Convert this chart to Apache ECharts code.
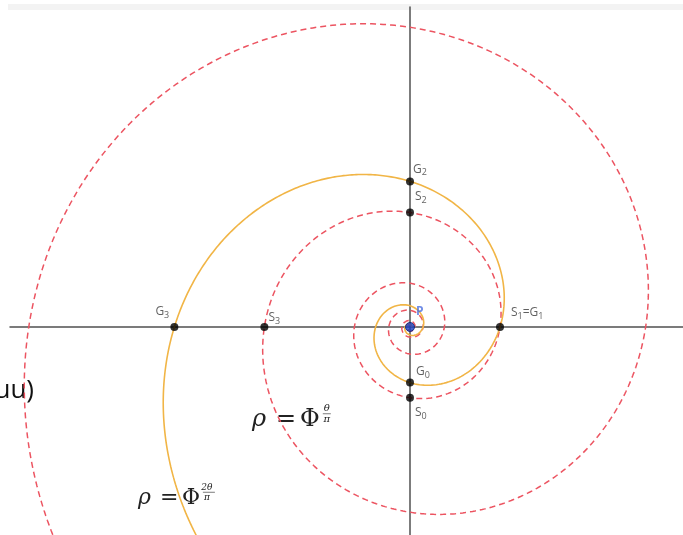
<!DOCTYPE html>
<html>
<head>
<meta charset="utf-8">
<script src="https://cdn.jsdelivr.net/npm/echarts@6/dist/echarts.min.js"></script>
<style>
  html, body { margin: 0; padding: 0; background: #ffffff; }
  #chart { width: 683px; height: 535px; }
</style>
</head>
<body>
<div id="chart"></div>
<script>
// Golden ratio: both spirals grow by powers of it.
const PHI = (1 + Math.sqrt(5)) / 2;

// Spirals rho = PHI^(k * theta / pi); k and the drawn theta span (in multiples of pi).
const spiralNames = ['S', 'G'];
const spiralExponent = [1, 2];
const spiralFromTurns = [-8, -4];
const spiralToTurns = [3.4, 1.45];

// Marked points: curve they sit on and their angle (in multiples of pi).
const pointCurve = ['S', 'S', 'S', 'S', 'G', 'G', 'G'];
const pointAngle = [-0.5, 0, 0.5, 1, -0.5, 0.5, 1];
const pointLabels = ['S0', 'S1=G1', 'S2', 'S3', 'G0', 'G2', 'G3'];

// Pole of the spirals.
const poleLabel = 'P';

// Layout: pixels per unit radius and where the pole sits on the page.
const W = 683, H = 535, UNIT = 90, CX = 410, CY = 327;
const GRID_LEFT = 10, GRID_TOP = 7;

function spiralData(k, fromT, toT) {
  const pts = [];
  const step = 0.004;
  for (let t = fromT; t <= toT + 1e-9; t += step) {
    const th = t * Math.PI;
    const r = Math.pow(PHI, k * t);
    pts.push([r * Math.cos(th), r * Math.sin(th)]);
  }
  return pts;
}

function pointOn(curve, t) {
  const k = spiralExponent[spiralNames.indexOf(curve)];
  const r = Math.pow(PHI, k * t);
  const th = t * Math.PI;
  return [r * Math.cos(th), r * Math.sin(th)];
}

function richLabel(s) {
  // "S1=G1" -> letters normal, digits as subscripts
  return s.replace(/([A-Z=]+)|(\d+)/g, (m, a, d) => a ? '{b|' + a + '}' : '{s|' + d + '}');
}

// Label offsets (from dot centre to the label's left-middle).
const labelOffset = {
  'S0': [5, 15], 'S1=G1': [11, -14], 'S2': [5, -16], 'S3': [4, -9],
  'G0': [6, -11], 'G2': [3, -12], 'G3': [-19, -15]
};

const chart = echarts.init(document.getElementById('chart'), null, { renderer: 'canvas' });

const xMin = -(CX - GRID_LEFT) / UNIT, xMax = (W - CX) / UNIT;
const yMax = (CY - GRID_TOP) / UNIT, yMin = -(H - CY) / UNIT;

const axisStyle = { color: '#505050', width: 1.5 };

const curveStyles = {
  S: { color: '#ec5461', width: 1.5, type: [6, 4] },
  G: { color: '#f1b546', width: 1.6, type: 'solid' }
};

const series = [];
spiralNames.forEach((name, i) => {
  series.push({
    type: 'line',
    name: name,
    data: spiralData(spiralExponent[i], spiralFromTurns[i], spiralToTurns[i]),
    showSymbol: false,
    symbol: 'none',
    smooth: false,
    clip: true,
    lineStyle: curveStyles[name],
    z: name === 'G' ? 3 : 2,
    animation: false
  });
});

series.push({
  type: 'scatter',
  data: pointLabels.map((lab, i) => ({
    value: pointOn(pointCurve[i], pointAngle[i]),
    name: lab,
    label: {
      show: true,
      position: 'inside',
      align: 'left',
      verticalAlign: 'middle',
      offset: labelOffset[lab],
      formatter: richLabel(lab),
      rich: {
        b: { fontSize: 12, fontFamily: '"Open Sans", sans-serif', color: '#383838', lineHeight: 16, verticalAlign: 'middle' },
        s: { fontSize: 9, fontFamily: '"Open Sans", sans-serif', color: '#383838', lineHeight: 16, verticalAlign: 'bottom', padding: [5, 0, 0, 0] }
      }
    }
  })),
  symbol: 'circle',
  symbolSize: 8,
  itemStyle: { color: '#000000' },
  z: 5,
  animation: false
});

series.push({
  type: 'scatter',
  data: [{ value: [0, 0], name: poleLabel }],
  symbol: 'circle',
  symbolSize: 9,
  itemStyle: { color: '#1a3fc4', borderColor: '#0c1f6e', borderWidth: 1 },
  label: {
    show: true,
    position: 'inside',
    align: 'left',
    verticalAlign: 'middle',
    offset: [6, -15],
    formatter: '{b}',
    fontSize: 12,
    fontWeight: 'bold',
    fontFamily: '"Open Sans", sans-serif',
    color: '#4a6ee0'
  },
  z: 6,
  animation: false
});

// Equation annotations drawn as text: rho = Phi^(numer/pi)
function equation(x, base, numer, size) {
  const serif = '"DejaVu Serif", "Liberation Serif", serif';
  const small = Math.round(size * 0.4);
  const fracX = x + size * 2.95;
  return {
    type: 'group',
    children: [
      { type: 'text', x: x, y: base, style: { text: 'ρ', font: 'italic ' + size + 'px ' + serif, fill: '#222', verticalAlign: 'bottom' } },
      { type: 'text', x: x + size * 1.0, y: base, style: { text: '=', font: size + 'px ' + serif, fill: '#222', verticalAlign: 'bottom' } },
      { type: 'text', x: x + size * 2.0, y: base, style: { text: 'Φ', font: size + 'px ' + serif, fill: '#222', verticalAlign: 'bottom' } },
      { type: 'text', x: fracX + 4, y: base - size * 0.78, style: { text: numer, font: 'italic ' + small + 'px ' + serif, fill: '#222', align: 'center', verticalAlign: 'bottom' } },
      { type: 'line', shape: { x1: fracX, y1: base - size * 0.76, x2: fracX + 8 + (numer.length - 1) * 4, y2: base - size * 0.76 }, style: { stroke: '#222', lineWidth: 0.6 } },
      { type: 'text', x: fracX + 4, y: base - size * 0.72, style: { text: 'π', font: 'italic ' + small + 'px ' + serif, fill: '#222', align: 'center', verticalAlign: 'top' } }
    ]
  };
}

chart.setOption({
  backgroundColor: '#ffffff',
  animation: false,
  grid: { left: GRID_LEFT, right: 0, top: GRID_TOP, bottom: 0, containLabel: false },
  xAxis: {
    type: 'value', min: xMin, max: xMax,
    axisLine: { show: true, onZero: true, lineStyle: axisStyle },
    axisTick: { show: false }, axisLabel: { show: false }, splitLine: { show: false }
  },
  yAxis: {
    type: 'value', min: yMin, max: yMax,
    axisLine: { show: true, onZero: true, lineStyle: axisStyle },
    axisTick: { show: false }, axisLabel: { show: false }, splitLine: { show: false }
  },
  series: series,
  graphic: [
    { type: 'rect', shape: { x: 8, y: 4, width: W - 8, height: 6 }, style: { fill: '#f3f3f3' }, z: -1 },
    equation(252, 432, 'θ', 24),
    equation(138, 509, '2θ', 22),
    { type: 'text', x: 34, y: 404, style: { text: 'uu)', font: '26px "Open Sans", sans-serif', fill: '#111', align: 'right', verticalAlign: 'bottom' } }
  ]
});
</script>
</body>
</html>
